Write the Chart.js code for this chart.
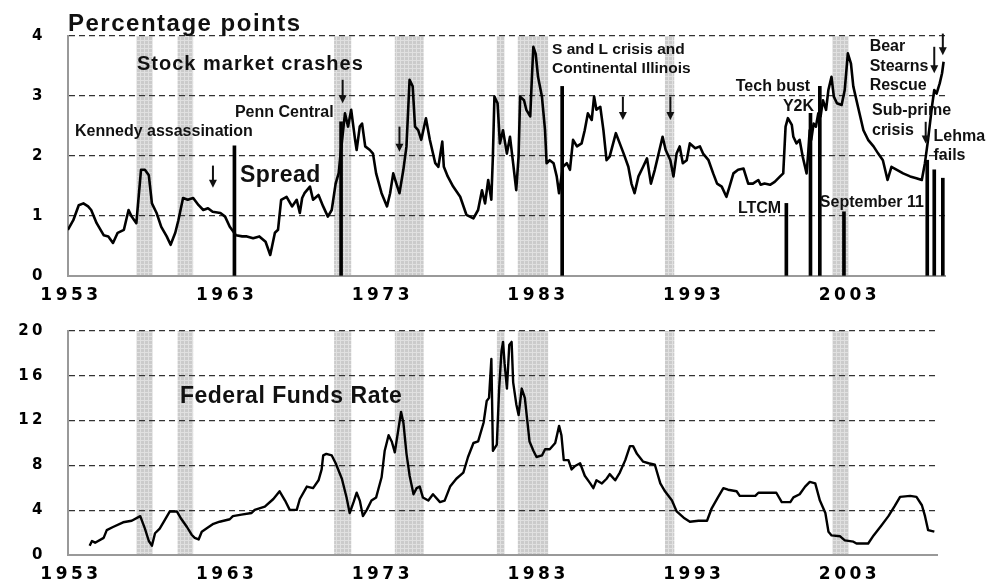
<!DOCTYPE html>
<html>
<head>
<meta charset="utf-8">
<script src="https://cdn.jsdelivr.net/npm/chart.js@4.4.1/dist/chart.umd.min.js"></script>
<style>
  body { margin: 0; background: #fff; }
  #wrap { position: relative; width: 987px; height: 586px; overflow: hidden; }
  canvas { position: absolute; left: 0; }
  #grafico-spread { top: 0; }
  #grafico-fed { top: 300px; }
</style>
</head>
<body>
<div id="wrap">
  <canvas id="grafico-spread" width="987" height="310"></canvas>
  <canvas id="grafico-fed" width="987" height="286"></canvas>
</div>
<script>
const tickYears = [1953, 1963, 1973, 1983, 1993, 2003];
const spreadTicks = [0, 1, 2, 3, 4];
const fedTicks = [0, 4, 8, 12, 16, 20];

const recessionStart = [1957.2, 1959.85, 1969.9, 1973.8, 1980.35, 1981.7, 1991.15, 2001.9];
const recessionEnd   = [1958.25, 1960.85, 1971.0, 1975.65, 1980.85, 1983.65, 1991.75, 2002.95];

const spreadYears = [
  1952.8, 1953.15, 1953.5, 1953.8, 1954.1, 1954.3, 1954.65, 1955.1, 1955.4, 1955.7,
  1956.0, 1956.4, 1956.7, 1956.9, 1957.2, 1957.5, 1957.75, 1958.0, 1958.2, 1958.5,
  1958.8, 1959.15, 1959.4, 1959.7, 1959.9, 1960.2, 1960.5, 1960.85, 1961.2, 1961.5,
  1961.8, 1962.1, 1962.6, 1962.9, 1963.2, 1963.6, 1964.0, 1964.3, 1964.7, 1965.1,
  1965.5, 1965.8, 1966.1, 1966.3, 1966.5, 1966.85, 1967.2, 1967.5, 1967.7, 1967.85,
  1968.0, 1968.35, 1968.55, 1968.9, 1969.2, 1969.5, 1969.75, 1970.0, 1970.2, 1970.3,
  1970.6, 1970.8, 1971.0, 1971.25, 1971.35, 1971.55, 1971.7, 1971.9, 1972.2, 1972.4,
  1972.6, 1972.95, 1973.3, 1973.5, 1973.7, 1973.9, 1974.1, 1974.35, 1974.55, 1974.75,
  1974.95, 1975.1, 1975.3, 1975.5, 1975.8, 1976.05, 1976.4, 1976.6, 1976.85, 1976.95,
  1977.2, 1977.55, 1978.0, 1978.4, 1978.85, 1979.15, 1979.4, 1979.6, 1979.8, 1980.0,
  1980.1, 1980.2, 1980.4, 1980.55, 1980.75, 1981.0, 1981.2, 1981.4, 1981.6, 1981.75,
  1981.85, 1982.1, 1982.25, 1982.5, 1982.6, 1982.7, 1982.85, 1983.0, 1983.25, 1983.45,
  1983.55, 1983.75, 1984.0, 1984.2, 1984.35, 1984.6, 1984.85, 1985.05, 1985.25, 1985.5,
  1985.8, 1986.0, 1986.2, 1986.45, 1986.6, 1986.75, 1987.0, 1987.2, 1987.4, 1987.6,
  1988.0, 1988.25, 1988.5, 1988.8, 1989.0, 1989.2, 1989.45, 1989.75, 1990.0, 1990.25,
  1990.5, 1990.7, 1991.0, 1991.2, 1991.5, 1991.7, 1991.9, 1992.1, 1992.3, 1992.55,
  1992.75, 1993.1, 1993.4, 1993.6, 1993.95, 1994.25, 1994.5, 1994.8, 1995.1, 1995.3,
  1995.55, 1995.85, 1996.2, 1996.5, 1996.8, 1997.15, 1997.3, 1997.55, 1997.9, 1998.2,
  1998.55, 1998.75, 1998.9, 1999.05, 1999.3, 1999.4, 1999.6, 1999.8, 2000.0, 2000.15,
  2000.25, 2000.35, 2000.45, 2000.55, 2000.7, 2000.85, 2001.0, 2001.15, 2001.3, 2001.5,
  2001.65, 2001.85, 2002.0, 2002.2, 2002.5, 2002.7, 2002.9, 2003.1, 2003.25, 2003.55,
  2003.9, 2004.2, 2004.55, 2004.85, 2005.15, 2005.45, 2005.7, 2006.05, 2006.45, 2006.9,
  2007.3, 2007.65, 2007.85, 2008.05, 2008.3, 2008.45, 2008.6, 2008.8, 2008.95, 2009.05
];
const spreadValues = [
  0.77, 0.93, 1.18, 1.21, 1.16, 1.10, 0.88, 0.68, 0.66, 0.55,
  0.72, 0.77, 1.10, 0.99, 0.88, 1.77, 1.77, 1.68, 1.21, 1.05,
  0.82, 0.66, 0.52, 0.72, 0.93, 1.30, 1.27, 1.30, 1.18, 1.10,
  1.13, 1.07, 1.05, 0.99, 0.82, 0.68, 0.66, 0.66, 0.63, 0.66,
  0.57, 0.35, 0.72, 0.77, 1.27, 1.32, 1.16, 1.27, 1.05, 1.30,
  1.38, 1.49, 1.27, 1.35, 1.16, 0.99, 1.10, 1.54, 1.72, 1.99,
  2.71, 2.49, 2.77, 2.27, 2.10, 2.49, 2.54, 2.16, 2.10, 2.04,
  1.71, 1.38, 1.16, 1.38, 1.71, 1.54, 1.38, 1.77, 2.16, 3.27,
  3.16, 2.49, 2.43, 2.27, 2.63, 2.27, 1.88, 1.82, 2.24, 1.82,
  1.66, 1.49, 1.32, 1.02, 0.96, 1.10, 1.43, 1.21, 1.60, 1.27,
  1.99, 2.99, 2.88, 2.21, 2.43, 2.04, 2.32, 1.88, 1.43, 1.99,
  2.99, 2.93, 2.77, 2.66, 3.27, 3.82, 3.70, 3.32, 2.99, 2.43,
  1.88, 1.93, 1.88, 1.66, 1.38, 1.82, 1.88, 1.77, 2.27, 2.16,
  2.21, 2.43, 2.71, 2.60, 2.99, 2.77, 2.82, 2.43, 1.93, 1.99,
  2.38, 2.21, 2.04, 1.82, 1.54, 1.38, 1.66, 1.82, 1.96, 1.54,
  1.77, 1.99, 2.32, 2.10, 1.93, 1.66, 2.04, 2.16, 1.88, 1.93,
  2.21, 2.13, 2.16, 2.04, 1.93, 1.71, 1.54, 1.49, 1.32, 1.49,
  1.71, 1.77, 1.79, 1.54, 1.54, 1.60, 1.52, 1.54, 1.52, 1.57,
  1.66, 1.71, 2.49, 2.63, 2.52, 2.32, 2.21, 2.27, 1.99, 1.82,
  1.71, 2.04, 2.43, 2.27, 2.54, 2.49, 2.71, 2.66, 2.93, 2.77,
  3.10, 3.32, 2.99, 2.88, 2.85, 3.10, 3.71, 3.54, 3.16, 2.82,
  2.43, 2.27, 2.16, 2.04, 1.93, 1.60, 1.82, 1.77, 1.71, 1.66,
  1.63, 1.60, 1.88, 2.27, 2.82, 3.10, 3.04, 3.21, 3.38, 3.57
];

const fedYears = [
  1954.2, 1954.35, 1954.55, 1955.1, 1955.3, 1955.7, 1956.35, 1956.9, 1957.45, 1957.75,
  1958.0, 1958.2, 1958.4, 1958.7, 1959.05, 1959.35, 1959.8, 1960.1, 1960.45, 1960.75,
  1960.95, 1961.2, 1961.4, 1961.7, 1962.15, 1962.55, 1963.2, 1963.4, 1963.95, 1964.6,
  1964.8, 1965.45, 1966.0, 1966.4, 1966.75, 1967.05, 1967.5, 1967.7, 1968.15, 1968.55,
  1968.9, 1969.1, 1969.2, 1969.4, 1969.75, 1970.0, 1970.4, 1970.7, 1970.9, 1971.15,
  1971.35, 1971.55, 1971.75, 1972.0, 1972.3, 1972.6, 1972.95, 1973.15, 1973.4, 1973.6,
  1973.8, 1974.0, 1974.2, 1974.35, 1974.55, 1974.75, 1975.0, 1975.2, 1975.4, 1975.6,
  1975.95, 1976.25, 1976.7, 1977.0, 1977.35, 1977.75, 1978.2, 1978.5, 1978.85, 1979.15,
  1979.5, 1979.7, 1979.85, 1980.0, 1980.1, 1980.35, 1980.5, 1980.65, 1980.75, 1980.85,
  1981.0, 1981.15, 1981.3, 1981.4, 1981.6, 1981.75, 1981.95, 1982.15, 1982.3, 1982.45,
  1982.7, 1982.9, 1983.25, 1983.45, 1983.75, 1984.1, 1984.35, 1984.5, 1984.65, 1984.95,
  1985.15, 1985.35, 1985.7, 1986.0, 1986.35, 1986.55, 1986.75, 1987.1, 1987.4, 1987.6,
  1987.95, 1988.25, 1988.6, 1988.9, 1989.1, 1989.35, 1989.75, 1990.1, 1990.5, 1990.85,
  1991.15, 1991.6, 1991.9, 1992.35, 1992.75, 1993.3, 1993.85, 1994.15, 1994.55, 1994.9,
  1995.2, 1995.75, 1995.95, 1996.4, 1996.95, 1997.15, 1997.7, 1998.3, 1998.65, 1999.2,
  1999.4, 1999.8, 2000.15, 2000.45, 2000.8, 2001.1, 2001.45, 2001.65, 2001.85, 2002.4,
  2002.7, 2003.25, 2003.45, 2004.2, 2004.55, 2005.05, 2005.5, 2005.9, 2006.25, 2006.9,
  2007.3, 2007.65, 2007.85, 2008.05, 2008.45
];
const fedValues = [
  0.83, 1.25, 1.10, 1.53, 2.22, 2.50, 2.92, 3.06, 3.47, 2.36,
  1.25, 0.83, 1.94, 2.36, 3.19, 3.89, 3.89, 3.19, 2.50, 1.81,
  1.53, 1.39, 2.08, 2.36, 2.78, 2.97, 3.19, 3.47, 3.61, 3.75,
  4.03, 4.31, 5.00, 5.69, 4.86, 4.03, 4.03, 5.00, 6.11, 5.97,
  6.67, 7.64, 8.89, 9.03, 8.89, 8.19, 6.81, 5.14, 3.75, 4.72,
  5.56, 4.86, 3.47, 4.03, 4.86, 5.14, 6.94, 9.31, 10.69, 10.14,
  9.17, 10.97, 12.78, 11.81, 9.03, 7.08, 5.42, 5.97, 6.11, 5.14,
  4.86, 5.42, 4.72, 4.86, 6.11, 6.81, 7.36, 8.75, 10.00, 10.14,
  11.81, 13.75, 14.03, 17.50, 9.30, 9.86, 14.86, 18.19, 19.03, 17.08,
  14.86, 18.75, 19.03, 15.42, 13.47, 12.50, 14.86, 14.03, 12.08, 10.14,
  9.31, 8.75, 8.89, 9.44, 9.44, 10.00, 11.53, 10.69, 8.47, 8.47,
  7.64, 7.92, 8.19, 7.08, 6.39, 5.97, 6.67, 6.39, 6.81, 7.22,
  6.67, 7.36, 8.47, 9.72, 9.72, 9.03, 8.33, 8.19, 8.06, 6.39,
  5.69, 4.86, 3.89, 3.33, 2.97, 3.06, 3.06, 4.17, 5.14, 5.97,
  5.83, 5.69, 5.28, 5.28, 5.28, 5.56, 5.56, 5.56, 4.72, 4.72,
  5.14, 5.42, 6.11, 6.53, 6.39, 4.86, 3.75, 2.08, 1.75, 1.67,
  1.31, 1.19, 1.03, 1.03, 1.75, 2.64, 3.47, 4.36, 5.19, 5.28,
  5.19, 4.44, 3.47, 2.22, 2.08
];

// Kennedy, Penn Central, Continental Illinois, LTCM, Y2K, Tech bust, Sept 11, Sub-prime, Bear Stearns, Lehman
const eventYears   = [1963.5, 1970.35, 1984.55, 1998.95, 2000.5, 2001.1, 2002.65, 2008.0, 2008.45, 2009.0];
const eventHeights = [2.17, 2.57, 3.16, 1.21, 2.71, 3.16, 1.07, 1.93, 1.77, 1.63];

const FONT_TXT = '"Liberation Sans", Arial, sans-serif';
const FONT_TICK = '"DejaVu Sans", sans-serif';

const spreadNotes = [
  { text: "Percentage points", x: 1952.81, y: 4.2, size: 24, spacing: 1.5 },
  { text: "Stock market crashes", x: 1957.24, y: 3.52, size: 20, spacing: 1 },
  { text: "Penn Central", x: 1963.53, y: 2.72, size: 16 },
  { text: "Kennedy assassination", x: 1953.26, y: 2.40, size: 16 },
  { text: "Spread", x: 1963.85, y: 1.68, size: 23, spacing: 0.5 },
  { text: "S and L crisis and", x: 1983.9, y: 3.77, size: 15.5 },
  { text: "Continental Illinois", x: 1983.9, y: 3.45, size: 15.5 },
  { text: "Tech bust", x: 1995.7, y: 3.15, size: 16 },
  { text: "Y2K", x: 1998.73, y: 2.82, size: 16 },
  { text: "LTCM", x: 1995.84, y: 1.13, size: 16 },
  { text: "September 11", x: 2001.1, y: 1.23, size: 16 },
  { text: "Bear", x: 2004.3, y: 3.82, size: 16 },
  { text: "Stearns", x: 2004.3, y: 3.49, size: 16 },
  { text: "Rescue", x: 2004.3, y: 3.17, size: 16 },
  { text: "Sub-prime", x: 2004.45, y: 2.75, size: 16 },
  { text: "crisis", x: 2004.45, y: 2.43, size: 16 },
  { text: "Lehma", x: 2008.4, y: 2.32, size: 16 },
  { text: "fails", x: 2008.4, y: 2.0, size: 16 }
];
const spreadArrows = [
  { x: 1962.12, from: 1.84, to: 1.47 },
  { x: 1970.45, from: 3.27, to: 2.88 },
  { x: 1974.1, from: 2.49, to: 2.07 },
  { x: 1988.45, from: 2.99, to: 2.6 },
  { x: 1991.5, from: 2.99, to: 2.6 },
  { x: 2007.9, from: 2.57, to: 2.21 },
  { x: 2008.45, from: 3.82, to: 3.38 },
  { x: 2009.0, from: 4.04, to: 3.68 }
];
const fedNotes = [
  { text: "Federal Funds Rate", x: 1960.0, y: 14.17, size: 23, spacing: 0.5 }
];

// tile for the dotted grey recession bands
const tile = document.createElement("canvas");
tile.width = 4; tile.height = 4;
(function () {
  const g = tile.getContext("2d");
  g.fillStyle = "#cbcbcb"; g.fillRect(0, 0, 4, 4);
  g.fillStyle = "#e0e0e0"; g.fillRect(0, 0, 4, 1); g.fillRect(0, 0, 1, 4);
})();

const recessionBands = {
  id: "recessionBands",
  beforeDraw(chart) {
    const { ctx, chartArea, scales } = chart;
    ctx.save();
    ctx.fillStyle = ctx.createPattern(tile, "repeat");
    recessionStart.forEach((s, i) => {
      const l = scales.x.getPixelForValue(s);
      const r = scales.x.getPixelForValue(recessionEnd[i]);
      ctx.fillRect(l, chartArea.top, r - l, chartArea.bottom - chartArea.top);
    });
    ctx.restore();
    ctx.letterSpacing = "3.5px"; // wide tick labels like the original
  },
  beforeDatasetsDraw(chart) { chart.ctx.letterSpacing = "0px"; }
};

function notesPlugin(notes, arrows) {
  return {
    id: "notes",
    afterDatasetsDraw(chart) {
      const { ctx, scales: { x, y } } = chart;
      ctx.save();
      ctx.fillStyle = "#111";
      ctx.strokeStyle = "#111";
      ctx.textBaseline = "middle";
      ctx.textAlign = "left";
      notes.forEach(n => {
        ctx.font = `bold ${n.size}px ${FONT_TXT}`;
        ctx.letterSpacing = (n.spacing || 0) + "px";
        ctx.fillText(n.text, x.getPixelForValue(n.x), y.getPixelForValue(n.y));
      });
      arrows.forEach(a => {
        const px = x.getPixelForValue(a.x);
        const y1 = y.getPixelForValue(a.from), y2 = y.getPixelForValue(a.to);
        ctx.lineWidth = 2;
        ctx.beginPath(); ctx.moveTo(px, y1); ctx.lineTo(px, y2 - 6); ctx.stroke();
        ctx.beginPath();
        ctx.moveTo(px - 4, y2 - 8); ctx.lineTo(px + 4, y2 - 8); ctx.lineTo(px, y2);
        ctx.closePath(); ctx.fill();
      });
      ctx.restore();
      ctx.letterSpacing = "0px";
    }
  };
}

function xAxis(max, height) {
  return {
    type: "linear", min: 1952.81, max: max, offset: false,
    afterBuildTicks: s => { s.ticks = tickYears.map(v => ({ value: v })); },
    afterFit: s => { s.height = height; },
    grid: { display: false, drawTicks: false, offset: false },
    border: { display: true, color: "#999", width: 2 },
    ticks: {
      autoSkip: false, maxRotation: 0, padding: 9, color: "#000",
      font: { family: FONT_TICK, weight: "bold", size: 17 },
      callback: v => String(v)
    }
  };
}

function yAxis(ticks) {
  return {
    min: ticks[0], max: ticks[ticks.length - 1],
    afterBuildTicks: s => { s.ticks = ticks.map(v => ({ value: v })); },
    afterFit: s => { s.width = 68; },
    grid: {
      drawTicks: false, lineWidth: 1.3,
      color: c => (c.tick && c.tick.value === 0 ? "rgba(0,0,0,0)" : "#333")
    },
    border: { display: true, color: "#999", width: 2, dash: [6, 4] },
    ticks: {
      padding: 22, color: "#000",
      font: { family: FONT_TICK, weight: "bold", size: 15 },
      callback: v => String(v)
    }
  };
}

const baseOptions = {
  responsive: false,
  animation: false,
  events: [],
  plugins: { legend: { display: false }, tooltip: { enabled: false } }
};

new Chart(document.getElementById("grafico-spread"), {
  type: "line",
  data: {
    datasets: [
      {
        data: spreadYears.map((yr, i) => ({ x: yr, y: spreadValues[i] })),
        borderColor: "#000", borderWidth: 2.6, pointRadius: 0, tension: 0,
        borderJoinStyle: "round", order: 1
      },
      {
        type: "bar",
        data: eventYears.map((yr, i) => ({ x: yr, y: eventHeights[i] })),
        backgroundColor: "#000", barThickness: 3, grouped: false, order: 2
      }
    ]
  },
  options: Object.assign({}, baseOptions, {
    layout: { padding: { top: 36, right: 42, left: 0, bottom: 0 } },
    scales: { x: xAxis(2009.14, 34), y: yAxis(spreadTicks) }
  }),
  plugins: [recessionBands, notesPlugin(spreadNotes, spreadArrows)]
});

new Chart(document.getElementById("grafico-fed"), {
  type: "line",
  data: {
    datasets: [{
      data: fedYears.map((yr, i) => ({ x: yr, y: fedValues[i] })),
      borderColor: "#000", borderWidth: 2.4, pointRadius: 0, tension: 0,
      borderJoinStyle: "round"
    }]
  },
  options: Object.assign({}, baseOptions, {
    layout: { padding: { top: 15, right: 50, left: 0, bottom: 0 } },
    scales: { x: xAxis(2008.62, 31), y: yAxis(fedTicks) }
  }),
  plugins: [recessionBands, notesPlugin(fedNotes, [])]
});
</script>
</body>
</html>
